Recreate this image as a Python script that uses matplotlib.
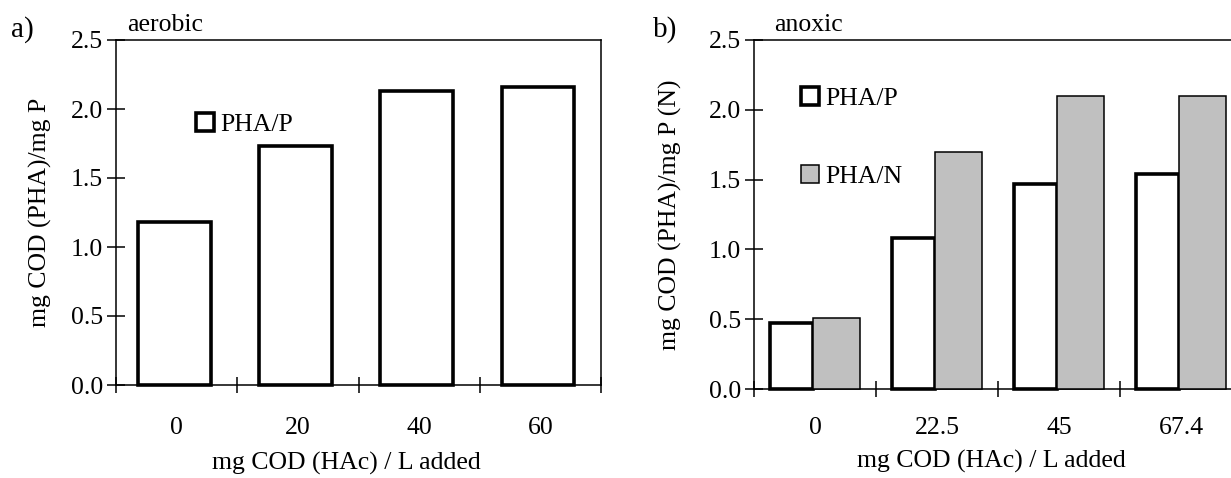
import matplotlib
matplotlib.use('Agg')
import matplotlib.pyplot as plt
import numpy as np

# Data
aerobic_doses = ['0', '20', '40', '60']
aerobic_pha_p = [1.18, 1.73, 2.13, 2.16]

anoxic_doses = ['0', '22.5', '45', '67.4']
anoxic_pha_p = [0.47, 1.08, 1.47, 1.54]
anoxic_pha_n = [0.51, 1.70, 2.10, 2.10]

yticks = [0.0, 0.5, 1.0, 1.5, 2.0, 2.5]

plt.rcParams['font.family'] = ['Liberation Serif', 'DejaVu Serif']
FS = 18.5
W, H = 1231, 478


def style_axes(ax, labels, ylabel, xpad, ylab_x, xlab_xy):
    n = len(labels)
    ax.set_xlim(-0.5, n - 0.5)
    ax.set_ylim(0, 2.5)
    ax.set_yticks(yticks)
    ax.set_yticklabels([f'{v:.1f}' for v in yticks], fontsize=FS)
    ax.set_xticks(np.arange(n))
    ax.set_xticklabels(labels, fontsize=FS)
    ax.set_xticks(np.arange(n + 1) - 0.5, minor=True)
    ax.tick_params(axis='x', which='major', length=0, pad=xpad)
    ax.tick_params(axis='x', which='minor', direction='inout', length=12, width=1.1)
    ax.tick_params(axis='y', direction='inout', length=13, width=1.1, pad=3)
    for s in ax.spines.values():
        s.set_linewidth(1.1)
    ax.set_xlabel('mg COD (HAc) / L added', fontsize=FS)
    ax.set_ylabel(ylabel, fontsize=FS)
    ax.yaxis.set_label_coords(ylab_x, 0.5)
    ax.xaxis.set_label_coords(*xlab_xy)


fig = plt.figure(figsize=(W / 100, H / 100), dpi=100)

# a) aerobic
ax1 = fig.add_axes([116 / W, 1 - 385 / H, 485 / W, 345 / H])
x = np.arange(len(aerobic_doses))
ax1.bar(x - 0.02, aerobic_pha_p, width=0.6, color='white', edgecolor='black',
        linewidth=2.6, label='PHA/P', clip_on=False, zorder=3)
style_axes(ax1, aerobic_doses, 'mg COD (PHA)/mg P', 23, -0.132, (0.474, -0.194))
ax1.legend(loc='upper left', bbox_to_anchor=(0.165, 0.787), frameon=False,
           fontsize=FS, handlelength=0.7, handleheight=0.7, handletextpad=0.25,
           borderpad=0, borderaxespad=0)

# b) anoxic
ax2 = fig.add_axes([754 / W, 1 - 389 / H, 488 / W, 349 / H])
x = np.arange(len(anoxic_doses))
ax2.bar(x - 0.19, anoxic_pha_p, width=0.35, color='white', edgecolor='black',
        linewidth=2.6, label='PHA/P', clip_on=False, zorder=3)
ax2.bar(x + 0.175, anoxic_pha_n, width=0.385, color='#c0c0c0', edgecolor='black',
        linewidth=1.1, label='PHA/N', clip_on=False, zorder=4)
style_axes(ax2, anoxic_doses, 'mg COD (PHA)/mg P (N)', 20, -0.147, (0.486, -0.175))
ax2.legend(loc='upper left', bbox_to_anchor=(0.096, 0.865), frameon=False,
           fontsize=FS, handlelength=0.7, handleheight=0.7, handletextpad=0.25,
           labelspacing=2.14, borderpad=0, borderaxespad=0)

# panel tags and condition labels
fig.text(11 / W, 1 - 30 / H, 'a)', fontsize=21, va='center', ha='left')
fig.text(653 / W, 1 - 30 / H, 'b)', fontsize=21, va='center', ha='left')
fig.text(127 / W, 1 - 25 / H, 'aerobic', fontsize=FS, va='center', ha='left')
fig.text(774 / W, 1 - 25 / H, 'anoxic', fontsize=FS, va='center', ha='left')

fig.savefig('out.png', dpi=100)
